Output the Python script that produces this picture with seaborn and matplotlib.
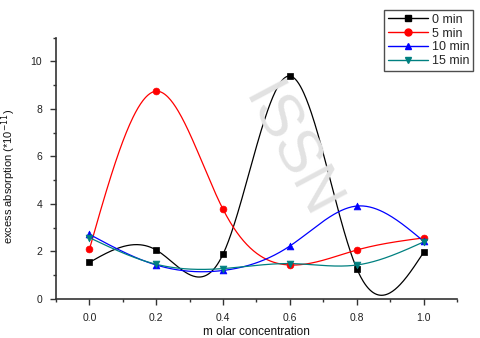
import numpy as np
import pandas as pd
import seaborn as sns
import matplotlib
matplotlib.use("Agg")
import matplotlib.pyplot as plt
from matplotlib.lines import Line2D
from matplotlib.ticker import MultipleLocator

# ---- data ----
conc = [0.0, 0.2, 0.4, 0.6, 0.8, 1.0]
min0 = [1.54, 2.06, 1.89, 9.38, 1.28, 1.96]
min5 = [2.09, 8.74, 3.77, 1.43, 2.06, 2.57]
min10 = [2.72, 1.43, 1.20, 2.23, 3.91, 2.43]
min15 = [2.58, 1.46, 1.28, 1.49, 1.43, 2.40]
labels = ["0 min", "5 min", "10 min", "15 min"]
series = [min0, min5, min10, min15]
colors = ["#000000", "#ff0000", "#0000ff", "#008080"]
markers = ["s", "o", "^", "v"]

sns.set_theme(style="white")
plt.rcParams["font.family"] = ["Liberation Sans", "DejaVu Sans"]


def natural_spline(x, y, xs):
    x = np.asarray(x, float); y = np.asarray(y, float)
    n = len(x)
    h = np.diff(x)
    A = np.zeros((n, n)); b = np.zeros(n)
    A[0, 0] = 1; A[-1, -1] = 1
    for i in range(1, n - 1):
        A[i, i - 1] = h[i - 1]
        A[i, i] = 2 * (h[i - 1] + h[i])
        A[i, i + 1] = h[i]
        b[i] = 6 * ((y[i + 1] - y[i]) / h[i] - (y[i] - y[i - 1]) / h[i - 1])
    M = np.linalg.solve(A, b)
    out = np.empty_like(xs)
    for k, t in enumerate(xs):
        i = min(max(np.searchsorted(x, t) - 1, 0), n - 2)
        a = x[i + 1] - t; c = t - x[i]
        out[k] = (M[i] * a**3 + M[i + 1] * c**3) / (6 * h[i]) \
            + (y[i] / h[i] - M[i] * h[i] / 6) * a \
            + (y[i + 1] / h[i] - M[i + 1] * h[i] / 6) * c
    return out


fig = plt.figure(figsize=(4.81, 3.38), dpi=100)
ax = fig.add_axes([56 / 481, 1 - 299 / 338, (457 - 56) / 481, (299 - 37.5) / 338])

# faint background watermark
fig.text(0.60, 0.55, "ISSN", rotation=-62, fontsize=44, color="#e2e2e2",
         ha="center", va="center", zorder=0)

xs = np.linspace(0, 1, 400)
for lab, ys, c, m in zip(labels, series, colors, markers):
    df_line = pd.DataFrame({"x": xs, "y": natural_spline(conc, ys, xs)})
    sns.lineplot(data=df_line, x="x", y="y", ax=ax, color=c, linewidth=0.9,
                 sort=False, estimator=None)
    df_pts = pd.DataFrame({"x": conc, "y": ys})
    sns.scatterplot(data=df_pts, x="x", y="y", ax=ax, color=c, marker=m,
                    s=24, edgecolor=c, linewidth=0.5, zorder=5)

ax.set_xlim(-0.1, 1.1)
ax.set_ylim(0, 11)
ax.patch.set_alpha(0)
ax.xaxis.set_major_locator(MultipleLocator(0.2))
ax.xaxis.set_minor_locator(MultipleLocator(0.1))
ax.yaxis.set_minor_locator(MultipleLocator(1))
ax.set_yticks([0, 2, 4, 6, 8, 10])
ax.xaxis.set_major_formatter(matplotlib.ticker.FormatStrFormatter("%.1f"))
for s in ["top", "right"]:
    ax.spines[s].set_visible(False)
for s in ["left", "bottom"]:
    ax.spines[s].set_color("#333333")
    ax.spines[s].set_linewidth(1.2)
ax.tick_params(which="both", direction="out", color="#333333", labelsize=7.5,
               labelcolor="#222222", bottom=True, left=True)
ax.tick_params(which="major", length=4, width=1, pad=6)
ax.tick_params(which="minor", length=2.5, width=1)
ax.set_xlabel("m olar concentration", fontsize=8.5, labelpad=2, color="#111111")
ax.set_ylabel("excess absorption (*10$^{-11}$)", fontsize=8, labelpad=5, color="#111111")
ax.yaxis.set_label_coords(-0.095, 0.47)

handles = [Line2D([0], [0], color=c, marker=m, markersize=5, linewidth=1, label=lab)
           for lab, c, m in zip(labels, colors, markers)]
leg = fig.legend(handles=handles, loc="upper right", bbox_to_anchor=(473 / 481, 1 - 10 / 338),
                 frameon=True, fancybox=False, edgecolor="#222222", fontsize=9,
                 handlelength=3.2, handletextpad=0.3, labelspacing=0.15,
                 borderpad=0.3, borderaxespad=0)
leg.get_frame().set_linewidth(1.0)

fig.savefig("out.png", dpi=100)
